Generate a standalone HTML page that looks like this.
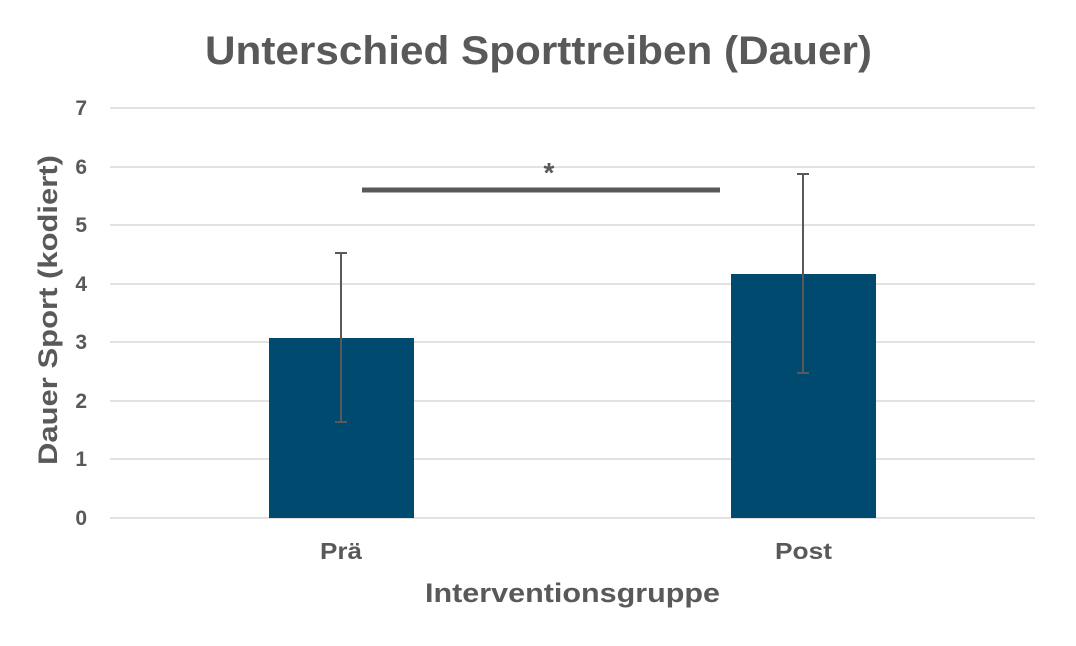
<!DOCTYPE html>
<html><head><meta charset="utf-8"><style>
body{margin:0;background:#fff;}
svg{display:block;font-family:"Liberation Sans",sans-serif;font-weight:bold;fill:#595959;}
</style></head><body>
<svg width="1076" height="646" viewBox="0 0 1076 646">
<rect width="1076" height="646" fill="#fff"/>
<text x="205" y="64" font-size="40" textLength="667" lengthAdjust="spacingAndGlyphs" fill="#595959">Unterschied Sporttreiben (Dauer)</text>
<g stroke="#d9d9d9" stroke-width="1.5">
<line x1="110" x2="1035" y1="108" y2="108"/>
<line x1="110" x2="1035" y1="167" y2="167"/>
<line x1="110" x2="1035" y1="225" y2="225"/>
<line x1="110" x2="1035" y1="284" y2="284"/>
<line x1="110" x2="1035" y1="342" y2="342"/>
<line x1="110" x2="1035" y1="401" y2="401"/>
<line x1="110" x2="1035" y1="459" y2="459"/>
<line x1="110" x2="1035" y1="518" y2="518"/>
</g>
<g font-size="21" text-anchor="end" fill="#595959">
<text x="87" y="115">7</text>
<text x="87" y="174">6</text>
<text x="87" y="232">5</text>
<text x="87" y="291">4</text>
<text x="87" y="349">3</text>
<text x="87" y="408">2</text>
<text x="87" y="466">1</text>
<text x="87" y="525">0</text>
</g>
<rect x="269" y="338" width="145" height="180" fill="#004a6f"/>
<rect x="731" y="274" width="145" height="244" fill="#004a6f"/>
<g stroke="#595959" stroke-width="2">
<line x1="341" x2="341" y1="253" y2="422"/>
<line x1="335" x2="347" y1="253" y2="253"/>
<line x1="335" x2="347" y1="422" y2="422"/>
<line x1="803" x2="803" y1="174" y2="373"/>
<line x1="797" x2="809" y1="174" y2="174"/>
<line x1="797" x2="809" y1="373" y2="373"/>
</g>
<line x1="362" x2="720" y1="190" y2="190" stroke="#595959" stroke-width="5"/>
<text x="549" y="182" font-size="28" text-anchor="middle">*</text>
<g font-size="23">
<text x="320" y="559" textLength="42" lengthAdjust="spacingAndGlyphs">Prä</text>
<text x="775" y="559" textLength="57" lengthAdjust="spacingAndGlyphs">Post</text>
<text x="425" y="602" font-size="27" textLength="295" lengthAdjust="spacingAndGlyphs">Interventionsgruppe</text>
<text transform="translate(57,465) rotate(-90)" font-size="27" textLength="310" lengthAdjust="spacingAndGlyphs">Dauer Sport (kodiert)</text>
</g>
</svg>
</body></html>
